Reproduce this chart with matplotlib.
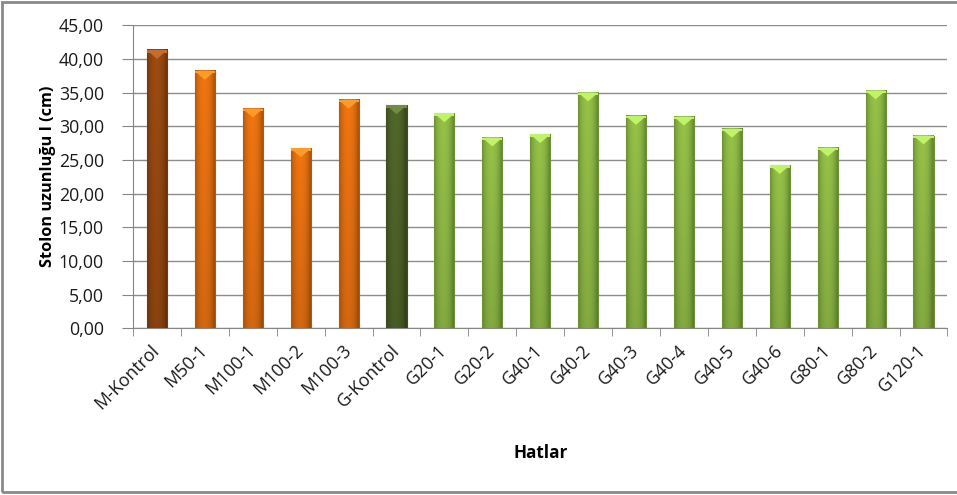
import numpy as np
import matplotlib.pyplot as plt
import matplotlib.transforms as mtransforms
from matplotlib.patches import Polygon, Rectangle
from matplotlib.colors import to_rgb

plt.rcParams['font.family'] = ['Open Sans', 'DejaVu Sans']

# Stolon length per line
hatlar = ['M-Kontrol', 'M50-1', 'M100-1', 'M100-2', 'M100-3', 'G-Kontrol',
          'G20-1', 'G20-2', 'G40-1', 'G40-2', 'G40-3', 'G40-4', 'G40-5',
          'G40-6', 'G80-1', 'G80-2', 'G120-1']
stolon = [41.3, 38.2, 32.6, 26.7, 33.9, 33.1,
          31.9, 28.3, 28.8, 35.0, 31.5, 31.4, 29.6,
          24.2, 26.8, 35.3, 28.6]
renkler = ['#944710'] + ['#e26f10'] * 4 + ['#4d6227'] + ['#8cb744'] * 11

fig = plt.figure(figsize=(9.57, 4.95), dpi=100)
ax = fig.add_axes([0.139, 0.337, 0.851, 0.612])

x = np.arange(len(hatlar))
bars = ax.bar(x, stolon, width=0.42, color=renkler, zorder=2, linewidth=0)

# bevel shading: light middle, darker sides and bottom
u = np.linspace(0, 1, 40)
side = 0.76 + 0.3 * np.sin(np.pi * np.clip(u * 1.1, 0, 1)) ** 0.6
v = np.linspace(0, 1, 60)[:, None]
vert = 0.88 + 0.12 * v
for b, c in zip(bars, renkler):
    x0, w, h = b.get_x(), b.get_width(), b.get_height()
    base = np.array(to_rgb(c))
    img = np.clip(base[None, None, :] * (side[None, :, None] * vert[:, :, None]), 0, 1)
    ax.imshow(img, extent=[x0, x0 + w, 0, h], origin='lower', aspect='auto',
              zorder=3, interpolation='bilinear')
    ax.add_patch(Rectangle((x0, 0), w, h, fill=False, ec=base * 0.8,
                           lw=0.8, zorder=4))
    light = np.clip(base * 1.22 + 0.08, 0, 1)
    ax.add_patch(Polygon([[x0, h], [x0 + w, h], [x0 + w / 2, h - 1.3]],
                         closed=True, fc=light, ec='none', zorder=5))
    ax.add_patch(Rectangle((x0, h - 0.35), w, 0.35, fc=light, ec='none', zorder=5))

ax.set_xlim(-0.5, len(hatlar) - 0.5)
ax.set_ylim(0, 45)
ax.set_yticks(np.arange(0, 46, 5))
ax.set_yticklabels([f'{t:.2f}'.replace('.', ',') for t in np.arange(0, 46, 5)],
                   fontsize=12.8, color='#1a1a1a')
ax.set_xticks(x)
ax.set_xticklabels(hatlar, rotation=45, ha='right', va='center',
                   rotation_mode='anchor', fontsize=12.8, color='#1a1a1a')
shift = mtransforms.ScaledTranslation(6 / 100, 0, fig.dpi_scale_trans)
for lbl in ax.get_xticklabels():
    lbl.set_transform(lbl.get_transform() + shift)
ax.set_xticks(np.arange(-0.5, len(hatlar)), minor=True)
ax.tick_params(axis='x', which='major', length=0, pad=14)
ax.tick_params(axis='x', which='minor', length=6, color='#868686', direction='out')
ax.tick_params(axis='y', length=8, color='#868686', pad=13)

ax.grid(axis='y', color='#8c8c8c', linewidth=1, zorder=0)
ax.set_axisbelow(True)
for s in ['top', 'right']:
    ax.spines[s].set_visible(False)
for s in ['left', 'bottom']:
    ax.spines[s].set_color('#868686')

ax.set_ylabel('Stolon uzunluğu I (cm)', fontsize=11.7, fontweight='bold')
ax.yaxis.set_label_coords(-0.104, 0.5)
ax.set_xlabel('Hatlar', fontsize=12.3, fontweight='bold')
ax.xaxis.set_label_coords(0.5, -0.4125)
ax.xaxis.label.set_va('center')
ax.yaxis.label.set_va('center')

# outer chart border (right edge falls outside the canvas)
fig.patches.append(Rectangle((0.002, 0.006), 1.05, 0.99, transform=fig.transFigure,
                             fill=False, ec='#8a8a8a', lw=2))

fig.savefig('out.png', dpi=100)
